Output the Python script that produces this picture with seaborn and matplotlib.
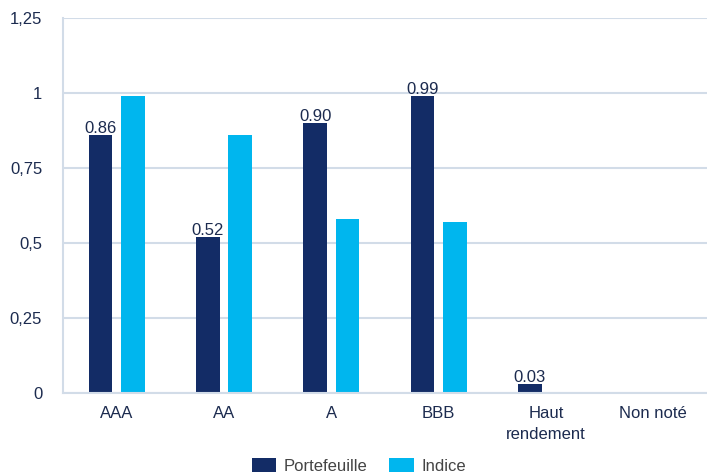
import matplotlib
matplotlib.use("Agg")
import matplotlib.pyplot as plt
from matplotlib.ticker import FixedLocator
import seaborn as sns
import pandas as pd

categories = ["AAA", "AA", "A", "BBB", "Haut\nrendement", "Non noté"]
portefeuille = [0.86, 0.52, 0.90, 0.99, 0.03, 0.0]
indice = [0.99, 0.86, 0.58, 0.57, 0.0, 0.0]
series_names = ["Portefeuille", "Indice"]
yticks = [0, 0.25, 0.5, 0.75, 1, 1.25]
ytick_labels = ["0", "0,25", "0,5", "0,75", "1", "1,25"]

df = pd.DataFrame({
    "cat": categories * 2,
    "val": portefeuille + indice,
    "serie": [series_names[0]] * len(categories) + [series_names[1]] * len(categories),
})

sns.set_theme(style="white")
plt.rcParams["font.family"] = ["Liberation Sans", "DejaVu Sans"]

navy = "#132c66"
cyan = "#00b6ee"
grid_c = "#d2dce8"
text_c = "#1c2b4f"

fig = plt.figure(figsize=(7.07, 4.74), dpi=100)
ax = fig.add_axes([63/707, 81/474, 1 - 63/707, 375/474])

sns.barplot(data=df, x="cat", y="val", hue="serie", order=categories,
            hue_order=series_names, palette=[navy, cyan], width=0.6, gap=0.26,
            saturation=1, ax=ax, legend=True, linewidth=0)

ax.set_ylim(0, 1.25)
ax.set_xlim(-0.5, len(categories) - 0.5)
ax.set_yticks(yticks)
ax.set_yticklabels(ytick_labels)
ax.yaxis.grid(True, color=grid_c, linewidth=1.5)
ax.set_axisbelow(True)
ax.set_xlabel("")
ax.set_ylabel("")

for s in ["top", "right"]:
    ax.spines[s].set_visible(False)
for s in ["left", "bottom"]:
    ax.spines[s].set_color(grid_c)
    ax.spines[s].set_linewidth(1.5)

ax.tick_params(axis="y", length=0, pad=15, labelsize=12, labelcolor=text_c)
ax.tick_params(axis="x", which="major", length=0, pad=9, labelsize=12, labelcolor=text_c)
for t in ax.get_xticklabels():
    t.set_linespacing(1.55)
ax.xaxis.set_minor_locator(FixedLocator([i + 0.5 for i in range(len(categories) - 1)] + [-0.5]))
ax.tick_params(axis="x", which="minor", length=12, width=1.5, color=grid_c)

cont = ax.containers[0]
labels = [("%.2f" % v) if v > 0 else "" for v in portefeuille]
ax.bar_label(cont, labels=labels, padding=-1, fontsize=12, color=text_c)

handles, lbls = ax.get_legend_handles_labels()
ax.legend(handles, lbls, loc="center", ncol=2, frameon=False, fontsize=12,
          handlelength=1.45, handleheight=0.95, columnspacing=1.3, handletextpad=0.45,
          labelcolor="#444444",
          bbox_to_anchor=(359 / 707, 8 / 474), bbox_transform=fig.transFigure)

fig.savefig("out.png", dpi=100)
